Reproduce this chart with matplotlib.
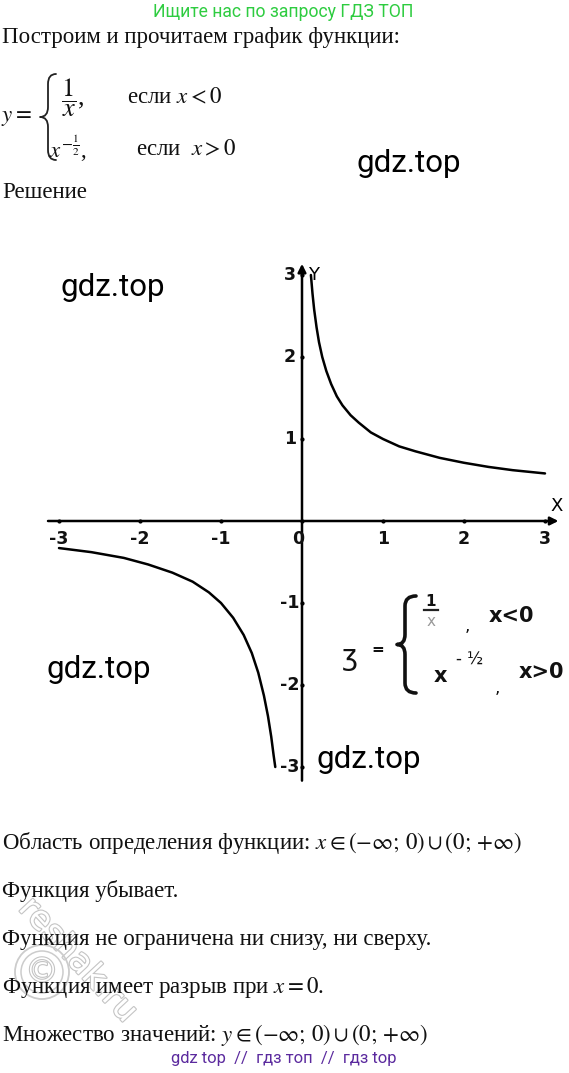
import numpy as np
import matplotlib
matplotlib.use("Agg")
import matplotlib.pyplot as plt
import matplotlib.patheffects as pe
from matplotlib.patches import Circle, PathPatch
from matplotlib.path import Path

plt.rcParams['mathtext.fontset'] = 'stix'

# values
x_pos = [0.11, 0.13, 0.15, 0.18, 0.21, 0.25, 0.3, 0.36, 0.43, 0.5, 0.6, 0.7,
         0.85, 1.0, 1.2, 1.4, 1.7, 2.0, 2.3, 2.6, 3.0]
y_pos = [3.0, 2.77, 2.58, 2.36, 2.18, 2.0, 1.83, 1.67, 1.52, 1.41, 1.29, 1.2,
         1.08, 1.0, 0.91, 0.85, 0.77, 0.71, 0.66, 0.62, 0.58]
x_neg = [-3.0, -2.6, -2.2, -1.9, -1.6, -1.35, -1.15, -1.0, -0.85, -0.72, -0.62,
         -0.54, -0.47, -0.42, -0.38, -0.35, -0.33]
y_neg = [-0.33, -0.38, -0.45, -0.53, -0.63, -0.74, -0.87, -1.0, -1.18, -1.39,
         -1.61, -1.85, -2.13, -2.38, -2.63, -2.86, -3.0]

x_ticks = [-3, -2, -1, 0, 1, 2, 3]
x_tick_labels = ['-3', '-2', '-1', '0', '1', '2', '3']
y_ticks = [3, 2, 1, -1, -2, -3]
y_tick_labels = ['3', '2', '1', '-1', '-2', '-3']

W, H = 569, 1073
fig = plt.figure(figsize=(W / 100, H / 100), dpi=100)

# graph axes: pixel box x 0..569, y 230..800
x0_px, y0_px, ux, uy = 302, 521, 81, 82
top_px, bot_px = 230, 800
ax = fig.add_axes([0, 1 - bot_px / H, 1, (bot_px - top_px) / H])
ax.set_xlim((0 - x0_px) / ux, (W - x0_px) / ux)
ax.set_ylim((y0_px - bot_px) / uy, (y0_px - top_px) / uy)
ax.axis('off')

ax.annotate('', xy=(3.2, 0), xytext=(-3.17, 0),
            arrowprops=dict(arrowstyle='-|>', lw=1.8, color='k', mutation_scale=12))
ax.annotate('', xy=(0, 3.17), xytext=(0, -3.2),
            arrowprops=dict(arrowstyle='-|>', lw=1.8, color='k', mutation_scale=12))
ax.plot(x_ticks, [0] * len(x_ticks), 'k.', ms=4)
ax.plot([0] * len(y_ticks), y_ticks, 'k.', ms=4)

ax.plot(x_pos, y_pos, color='k', lw=1.8, solid_capstyle='round')
ax.plot(x_neg, y_neg, color='k', lw=1.8, solid_capstyle='round')

lab = dict(fontsize=12.5, fontweight='bold', family='DejaVu Sans', color='#111111')
for xt, s in zip(x_ticks, x_tick_labels):
    ax.text(xt - (0.05 if xt == 0 else 0), -0.22, s, ha='center', va='center', **lab)
for yt, s in zip(y_ticks, y_tick_labels):
    ax.text(-0.15, yt, s, ha='center', va='center', **lab)
ax.text(0.14, 3.0, 'Y', ha='center', va='center', fontsize=13, family='DejaVu Sans')
ax.text(3.15, 0.18, 'X', ha='center', va='center', fontsize=13, family='DejaVu Sans')

# overlay axes in pixel coordinates for the page text
tx = fig.add_axes([0, 0, 1, 1], facecolor='none')
tx.set_xlim(0, W)
tx.set_ylim(H, 0)
tx.axis('off')


def brace(xl, xm, xr, ytop, ybot, lw, color):
    ym = (ytop + ybot) / 2
    r = min(10, (ybot - ytop) / 6)
    verts = [(xr, ytop), (xm, ytop), (xm, ytop + r),
             (xm, ym - r), (xm, ym), (xl, ym),
             (xm, ym), (xm, ym + r),
             (xm, ybot - r), (xm, ybot), (xr, ybot)]
    codes = [Path.MOVETO, Path.CURVE3, Path.CURVE3,
             Path.LINETO, Path.CURVE3, Path.CURVE3,
             Path.CURVE3, Path.CURVE3,
             Path.LINETO, Path.CURVE3, Path.CURVE3]
    tx.add_patch(PathPatch(Path(verts, codes), fill=False, lw=lw, ec=color,
                           capstyle='round', joinstyle='round'))


serif = dict(family='Liberation Serif', fontsize=16.5, color='#111111', va='center', ha='left')
roboto = dict(family='Roboto', va='center')

tx.text(283, 12, 'Ищите нас по запросу ГДЗ ТОП', color='#2ecc40', fontsize=12.7, ha='center', **roboto)
tx.text(2, 37, 'Построим и прочитаем график функции:', **serif)

tx.text(1, 117, r'$y=$', **serif)
brace(40, 48, 56, 74, 160, 1.3, '#222222')
tx.text(61, 98, r'$\dfrac{1}{x}$,', family='Liberation Serif', fontsize=19,
        color='#111111', va='center', ha='left')
tx.text(127, 98, r'если $x<0$', **serif)
tx.text(49, 149, r'$x^{-\frac{1}{2}}$,', **serif)
tx.text(136, 150, r'если  $x>0$', **serif)

tx.text(2, 193, 'Решение', **serif)

wm = dict(family='Roboto', fontsize=22.5, color='black', ha='left', va='center')
tx.text(357, 163, 'gdz.top', **wm)
tx.text(61, 288, 'gdz.top', **wm)
tx.text(47, 670, 'gdz.top', **wm)
tx.text(317, 759, 'gdz.top', **wm)

# handwritten formula in the graph
hand = dict(family='DejaVu Sans', color='#111111', ha='center', va='center')
tx.text(350, 657, 'ʒ', fontsize=20, **hand)
tx.text(378, 649, '=', fontsize=11, fontweight='bold', **hand)
brace(397, 405, 416, 596, 693, 2.6, '#111111')
tx.text(431, 602, '1', fontsize=11, fontweight='bold', **hand)
tx.plot([424, 438], [610, 610], color='#222222', lw=1.6)
tx.text(431, 622, 'x', fontsize=11, color='#999999', family='DejaVu Sans', ha='center', va='center')
tx.text(467, 626, ',', fontsize=12, **hand)
tx.text(511, 616, 'x<0', fontsize=15, fontweight='bold', **hand)
tx.text(440, 676, 'x', fontsize=15, fontweight='bold', **hand)
tx.text(470, 660, '- ½', fontsize=12, **hand)
tx.text(497, 688, ',', fontsize=12, **hand)
tx.text(541, 672, 'x>0', fontsize=15, fontweight='bold', **hand)

tx.text(2, 843, r'Область определения функции: $x\in(-\infty;\,0)\cup(0;\,{+}\infty)$', **serif)
tx.text(2, 891, 'Функция убывает.', **serif)
tx.text(2, 939, 'Функция не ограничена ни снизу, ни сверху.', **serif)
tx.text(2, 987, r'Функция имеет разрыв при $x=0$.', **serif)
tx.text(2, 1035, r'Множество значений: $y\in(-\infty;\,0)\cup(0;\,{+}\infty)$', **serif)

tx.text(284, 1058, 'gdz top  //  гдз топ  //  гдз top', color='#5b2a9e', fontsize=12,
        ha='center', **roboto)

# faint reshak.ru stamp
outline = [pe.withStroke(linewidth=1.6, foreground='#c4c4c4')]
tx.text(78, 960, 'reshak.ru', family='DejaVu Sans', fontsize=24, color='white',
        rotation=-47, ha='center', va='center', path_effects=outline, zorder=0)
tx.add_patch(Circle((42, 972), 27, fill=False, ec='#cccccc', lw=1.3, zorder=0))
tx.add_patch(Circle((42, 972), 21, fill=False, ec='#cccccc', lw=1.1, zorder=0))
tx.text(42, 972, '©', family='DejaVu Sans', fontsize=24, color='white',
        ha='center', va='center', path_effects=outline, zorder=0)

fig.savefig('out.png', dpi=100)
